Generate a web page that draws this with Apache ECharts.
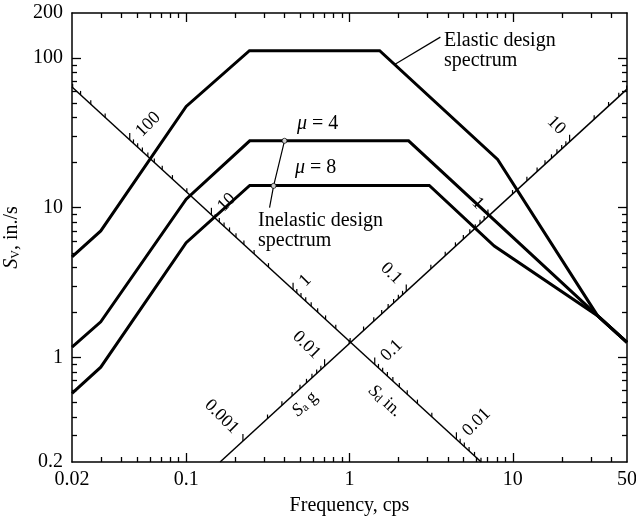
<!DOCTYPE html>
<html><head><meta charset="utf-8">
<script src="https://cdn.jsdelivr.net/npm/echarts@6/dist/echarts.min.js"></script>
<style>html,body{margin:0;padding:0;background:#fff}#c{width:636px;height:521px}</style>
</head><body><div id="c"></div>
<script>
// ---------- data ----------
const freqElastic = [0.02, 0.03, 0.1, 0.244, 1.53, 8.07, 33, 50];
const svElastic   = [4.7, 7.0, 47.5, 112, 112, 21, 1.9, 1.26];
const freqMu4 = [0.02, 0.03, 0.1, 0.245, 2.3, 33, 50];
const svMu4   = [1.17, 1.73, 11.4, 28, 28, 1.9, 1.26];
const freqMu8 = [0.02, 0.03, 0.1, 0.245, 3.08, 7.7, 33, 50];
const svMu8   = [0.575, 0.86, 5.84, 14.1, 14.1, 5.55, 1.9, 1.26];

const xLabels = [0.02, 0.1, 1, 10, 50];
const xMajorTicks = [0.1, 1, 10];
const xMinorTicks = [0.03,0.04,0.05,0.06,0.07,0.08,0.09,0.2,0.3,0.4,0.5,0.6,0.7,0.8,0.9,2,3,4,5,6,7,8,9,20,30,40];
const yLabels = [0.2, 1, 10, 100, 200];
const yMajorTicks = [1, 10, 100];
const yMinorTicks = [0.3,0.4,0.5,0.6,0.7,0.8,0.9,2,3,4,5,6,7,8,9,20,30,40,50,60,70,80,90];

const sdMajor = [100, 10, 1, 0.1, 0.01];      // Sd, in.
const saMajor = [10, 1, 0.1, 0.01, 0.001];    // Sa, g
const tickMultipliers = [1,2,3,4,5,6,7,8,9];
const decades = [0.001, 0.01, 0.1, 1, 10, 100];
const sdLineConst = 1.28;   // Sv*f along the Sd scale line
const saLineConst = 1.24;   // Sv/f along the Sa scale line
const gInches = 386.1;

const elasticLeader = [[1.9, 91], [3.6, 138]];
const inelasticLeader = [[0.4, 28], [0.343, 14], [0.324, 10]];
const inelasticDots = [[0.4, 28], [0.343, 14]];

// ---------- helpers ----------
const FONT = "'Liberation Serif','Times New Roman',serif";
const X_MIN = 0.02, X_MAX = 50, Y_MIN = 0.2, Y_MAX = 200;
const zip = (a, b) => a.map((v, i) => [v, b[i]]);
const inside = (f, v) => f >= X_MIN * 0.999 && f <= X_MAX * 1.001 && v >= Y_MIN * 0.999 && v <= Y_MAX * 1.001;

function sdPoint(sd) { const f = Math.sqrt(sdLineConst / (2 * Math.PI * sd)); return [f, sdLineConst / f]; }
function saPoint(sa) { const f = Math.sqrt(sa * gInches / (2 * Math.PI * saLineConst)); return [f, saLineConst * f]; }

function buildTicks(pointFn, majors) {
  const out = [];
  decades.forEach(d => tickMultipliers.forEach(m => {
    const val = +(m * d).toPrecision(6);
    const p = pointFn(val);
    if (inside(p[0], p[1])) out.push([p[0], p[1], val, majors.indexOf(val) >= 0 ? 1 : 0]);
  }));
  return out;
}
const sdTicks = buildTicks(sdPoint, sdMajor);
const saTicks = buildTicks(saPoint, saMajor);

const sdLine = [[X_MIN, sdLineConst / X_MIN], [sdLineConst / Y_MIN, Y_MIN]];
const saLine = [[Y_MIN / saLineConst, Y_MIN], [X_MAX, saLineConst * X_MAX]];

function axisCommon() {
  return { type: 'log', logBase: 10, splitLine: { show: false }, minorTick: { show: false }, minorSplitLine: { show: false } };
}
function mkX(position, ticks, len, withLine, withLabels, name) {
  return Object.assign(axisCommon(), {
    gridIndex: 0, position, min: X_MIN, max: X_MAX,
    axisLine: { show: withLine, lineStyle: { color: '#000', width: 1.5 } },
    axisTick: { show: true, inside: true, length: len, customValues: ticks, lineStyle: { color: '#000', width: 1.3 } },
    axisLabel: withLabels ? { show: true, customValues: xLabels, formatter: v => String(+(+v).toPrecision(6)), color: '#000', fontFamily: FONT, fontSize: 20, margin: 8 } : { show: false },
    name: name || '', nameLocation: 'middle', nameGap: 34,
    nameTextStyle: { color: '#000', fontFamily: FONT, fontSize: 20 }
  });
}
function mkY(position, ticks, len, withLine, withLabels, name) {
  return Object.assign(axisCommon(), {
    gridIndex: 0, position, min: Y_MIN, max: Y_MAX,
    axisLine: { show: withLine, lineStyle: { color: '#000', width: 1.5 } },
    axisTick: { show: true, inside: true, length: len, customValues: ticks, lineStyle: { color: '#000', width: 1.3 } },
    axisLabel: withLabels ? { show: true, customValues: yLabels, formatter: v => String(+(+v).toPrecision(6)), color: '#000', fontFamily: FONT, fontSize: 20, margin: 9 } : { show: false },
    name: name || '', nameLocation: 'middle', nameGap: 41,
    nameTextStyle: {
      color: '#000', fontFamily: FONT, fontSize: 20,
      rich: {
        i: { fontStyle: 'italic', fontSize: 20, fontFamily: FONT, color: '#000' },
        s: { fontSize: 12, fontFamily: FONT, verticalAlign: 'bottom', color: '#000' },
        n: { fontSize: 20, fontFamily: FONT, color: '#000' }
      }
    }
  });
}

function diagRender(rot, dx, dy, align) {
  return function (params, api) {
    const p = api.coord([api.value(0), api.value(1)]);
    const major = api.value(3) === 1;
    const L = major ? 7 : 4;
    const children = [{ type: 'line', shape: { x1: p[0], y1: p[1], x2: p[0], y2: p[1] - L }, style: { stroke: '#000', lineWidth: 1.2 } }];
    if (major) {
      children.push({ type: 'text', x: p[0] + dx, y: p[1] + dy, rotation: rot,
        style: { text: String(api.value(2)), font: '18px ' + FONT, fill: '#000', align, verticalAlign: 'middle' } });
    }
    return { type: 'group', children };
  };
}

const subRich = {
  i: { fontStyle: 'italic', fontSize: 18, fontFamily: FONT, fill: '#000' },
  s: { fontSize: 12, fontFamily: FONT, verticalAlign: 'bottom', fill: '#000' },
  n: { fontSize: 18, fontFamily: FONT, fill: '#000' }
};
const DIAG_ANGLE = Math.atan(150 / 163.5);

const curveStyle = { color: '#000', width: 3, join: 'miter' };
const chart = echarts.init(document.getElementById('c'), null, { renderer: 'canvas' });
chart.setOption({
  animation: false,
  backgroundColor: '#fff',
  grid: { left: 72, right: 9, top: 13, bottom: 59, containLabel: false, outerBoundsMode: 'none' },
  xAxis: [
    mkX('bottom', xMajorTicks, 9, true, true, 'Frequency, cps'),
    mkX('bottom', xMinorTicks, 5, false, false),
    mkX('top', xMajorTicks, 9, true, false),
    mkX('top', xMinorTicks, 5, false, false)
  ],
  yAxis: [
    mkY('left', yMajorTicks, 9, true, true, '{i|S}{s|V}{n|, in./s}'),
    mkY('left', yMinorTicks, 5, false, false),
    mkY('right', yMajorTicks, 9, true, false),
    mkY('right', yMinorTicks, 5, false, false)
  ],
  series: [
    { type: 'line', name: 'Sd scale', data: sdLine, symbol: 'none', lineStyle: { color: '#000', width: 1.5 }, silent: true },
    { type: 'line', name: 'Sa scale', data: saLine, symbol: 'none', lineStyle: { color: '#000', width: 1.5 }, silent: true },
    { type: 'custom', name: 'Sd ticks', data: sdTicks, encode: { x: 0, y: 1 }, renderItem: diagRender(Math.PI / 4, 9, -6, 'left'), silent: true, z: 3 },
    { type: 'custom', name: 'Sa ticks', data: saTicks, encode: { x: 0, y: 1 }, renderItem: diagRender(-Math.PI / 4, -7, -10, 'right'), silent: true, z: 3 },
    { type: 'line', name: 'Elastic design spectrum', data: zip(freqElastic, svElastic), symbol: 'none', lineStyle: curveStyle, z: 4 },
    { type: 'line', name: 'μ = 4', data: zip(freqMu4, svMu4), symbol: 'none', lineStyle: curveStyle, z: 4 },
    { type: 'line', name: 'μ = 8', data: zip(freqMu8, svMu8), symbol: 'none', lineStyle: curveStyle, z: 4 },
    { type: 'line', name: 'elastic leader', data: elasticLeader, symbol: 'none', lineStyle: { color: '#000', width: 1.2 }, z: 5 },
    { type: 'line', name: 'inelastic leader', data: inelasticLeader, symbol: 'none', lineStyle: { color: '#000', width: 1.2 }, z: 5 },
    { type: 'scatter', name: 'leader dots', data: inelasticDots, symbol: 'circle', symbolSize: 5,
      itemStyle: { color: '#fff', borderColor: '#000', borderWidth: 1 }, z: 6 }
  ],
  graphic: [
    { type: 'text', x: 444, y: 41, style: { text: 'Elastic design', font: '20px ' + FONT, fill: '#000', verticalAlign: 'middle' } },
    { type: 'text', x: 444, y: 61, style: { text: 'spectrum', font: '20px ' + FONT, fill: '#000', verticalAlign: 'middle' } },
    { type: 'text', x: 258, y: 221, style: { text: 'Inelastic design', font: '20px ' + FONT, fill: '#000', verticalAlign: 'middle' } },
    { type: 'text', x: 258, y: 241, style: { text: 'spectrum', font: '20px ' + FONT, fill: '#000', verticalAlign: 'middle' } },
    { type: 'text', x: 297, y: 124, style: { text: '{i|μ} = 4', font: '20px ' + FONT, fill: '#000', verticalAlign: 'middle',
        rich: { i: { fontStyle: 'italic', font: 'italic 20px ' + FONT } } } },
    { type: 'text', x: 295, y: 168, style: { text: '{i|μ} = 8', font: '20px ' + FONT, fill: '#000', verticalAlign: 'middle',
        rich: { i: { fontStyle: 'italic', font: 'italic 20px ' + FONT } } } },
    { type: 'text', x: 305, y: 404, rotation: DIAG_ANGLE, style: { text: '{i|S}{s|a}{n| g}', font: '18px ' + FONT, fill: '#000', align: 'center', verticalAlign: 'middle', rich: subRich } },
    { type: 'text', x: 385, y: 401, rotation: -DIAG_ANGLE, style: { text: '{i|S}{s|d}{n| in.}', font: '18px ' + FONT, fill: '#000', align: 'center', verticalAlign: 'middle', rich: subRich } }
  ]
});
</script></body></html>
